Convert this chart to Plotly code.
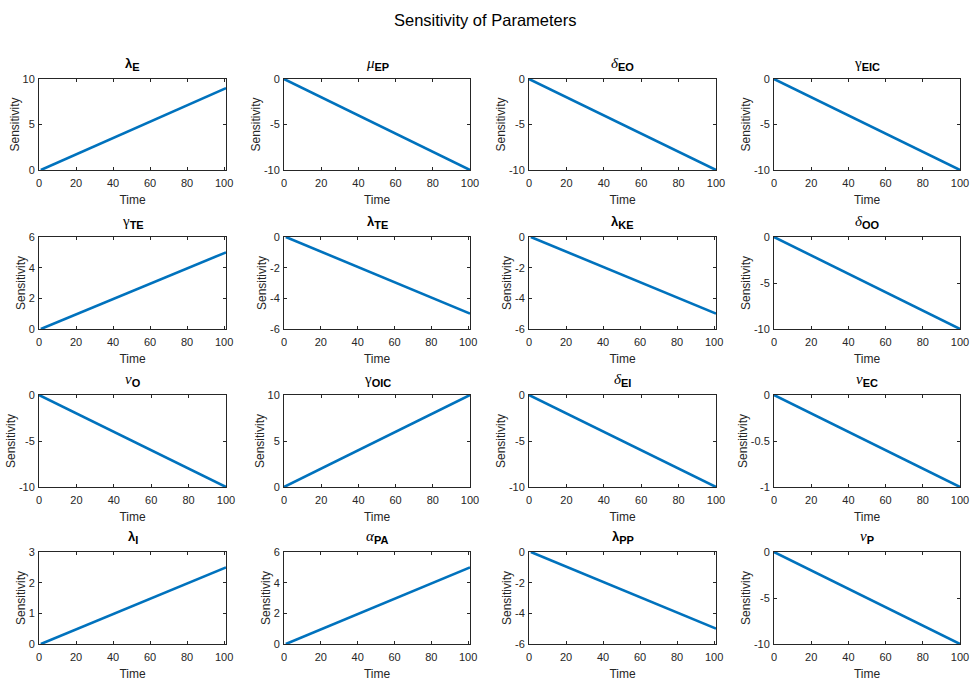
import plotly.graph_objects as go

# ---- data ----
greek = ["λ", "μ", "δ", "γ",
         "γ", "λ", "λ", "δ",
         "ν", "γ", "δ", "ν",
         "λ", "α", "λ", "ν"]
subscripts = ["E", "EP", "EO", "EIC",
              "TE", "TE", "KE", "OO",
              "O", "OIC", "EI", "EC",
              "I", "PA", "PP", "P"]
time_start = [1, 0, 0, 0, 1, 1, 1, 0, 0, 0, 0, 0, 1, 1, 1, 0]
time_end = [101, 100, 100, 100, 101, 101, 101, 100, 100, 100, 100, 100, 101, 101, 101, 100]
sens_start = [0] * 16
sens_end = [9, -10, -10, -10, 5, -5, -5, -10, -10, 10, -10, -1, 2.5, 5, -5, -10]
x_max = [101, 100, 100, 100, 101, 101, 101, 100, 100, 100, 100, 100, 101, 101, 101, 100]
y_ranges = [[0, 10], [-10, 0], [-10, 0], [-10, 0],
            [0, 6], [-6, 0], [-6, 0], [-10, 0],
            [-10, 0], [0, 10], [-10, 0], [-1, 0],
            [0, 3], [0, 6], [-6, 0], [-10, 0]]
y_tickvals = [[0, 5, 10], [-10, -5, 0], [-10, -5, 0], [-10, -5, 0],
              [0, 2, 4, 6], [-6, -4, -2, 0], [-6, -4, -2, 0], [-10, -5, 0],
              [-10, -5, 0], [0, 5, 10], [-10, -5, 0], [-1, -0.5, 0],
              [0, 1, 2, 3], [0, 2, 4, 6], [-6, -4, -2, 0], [-10, -5, 0]]
x_tickvals = [0, 20, 40, 60, 80, 100]


def fmt(v):
    return "%g" % v


W, H = 970, 682
col_px = [(39, 226), (284, 470), (529, 716), (774, 960)]
row_px = [(79, 170), (237, 329), (395, 487), (552, 644)]

fig = go.Figure()
font_family = "Liberation Sans, Arial, Helvetica, sans-serif"
axis_color = "#262626"
annotations = []

for i in range(16):
    r, c = divmod(i, 4)
    n = i + 1
    xa = "xaxis" if n == 1 else f"xaxis{n}"
    ya = "yaxis" if n == 1 else f"yaxis{n}"
    xref = "x" if n == 1 else f"x{n}"
    yref = "y" if n == 1 else f"y{n}"
    fig.add_trace(go.Scatter(
        x=[time_start[i], time_end[i]], y=[sens_start[i], sens_end[i]],
        mode="lines", line=dict(color="#0072BD", width=2.6),
        xaxis=xref, yaxis=yref, showlegend=False, cliponaxis=True))
    x0, x1 = col_px[c]
    y0, y1 = row_px[r]
    common = dict(showline=True, linecolor=axis_color, linewidth=1, mirror="ticks",
                  ticks="inside", ticklen=3, tickcolor=axis_color, tickwidth=1,
                  showgrid=False, zeroline=False, automargin=False,
                  tickfont=dict(family=font_family, size=11, color=axis_color),
                  title_font=dict(family=font_family, size=12, color=axis_color))
    fig.layout[xa] = dict(domain=[x0 / W, x1 / W], anchor=yref,
                          range=[0, x_max[i]], tickvals=x_tickvals,
                          ticktext=[fmt(v) for v in x_tickvals],
                          ticklabelstandoff=3,
                          title=dict(text="Time", standoff=7), **common)
    fig.layout[ya] = dict(domain=[1 - y1 / H, 1 - y0 / H], anchor=xref,
                          range=y_ranges[i], tickvals=y_tickvals[i],
                          ticktext=[fmt(v) for v in y_tickvals[i]],
                          ticklabelstandoff=1,
                          title=dict(text="Sensitivity", standoff=0), **common)
    g = greek[i]
    if g == "λ":
        head = "<b>" + g + "</b>"
    elif g == "γ":
        head = '<span style="font-family:Liberation Serif;font-size:15px">' + g + "</span>"
    else:
        head = '<span style="font-family:Liberation Serif;font-size:15px"><i>' + g + "</i></span>"
    text = head + '<sub><b><span style="font-size:11px">' + subscripts[i] + "</span></b></sub>"
    annotations.append(dict(text=text, x=(x0 + x1) / 2 / W,
                            y=1 - (y0 - 4) / H, xref="paper", yref="paper",
                            xanchor="center", yanchor="bottom", showarrow=False,
                            font=dict(family=font_family, size=13, color="#000000")))

annotations.append(dict(text="Sensitivity of Parameters", x=0.5, y=1 - 20 / H,
                        xref="paper", yref="paper", xanchor="center", yanchor="middle",
                        showarrow=False,
                        font=dict(family=font_family, size=16.5, color="#000000")))

fig.update_layout(width=W, height=H, margin=dict(l=0, r=0, t=0, b=0),
                  paper_bgcolor="white", plot_bgcolor="white",
                  annotations=annotations, showlegend=False)

fig.write_html("out.html",
               post_script="document.body.style.margin='0';document.body.style.overflow='hidden';")
